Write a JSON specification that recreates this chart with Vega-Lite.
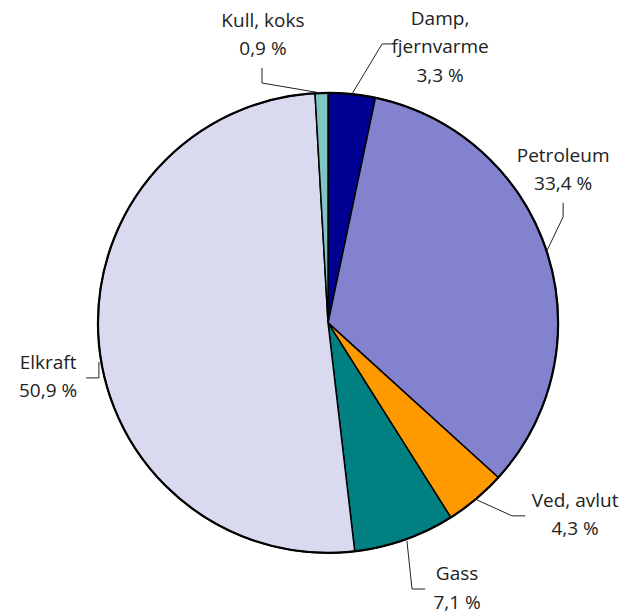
{
  "$schema": "https://vega.github.io/schema/vega-lite/v6.json",
  "width": 631,
  "height": 615,
  "padding": 0,
  "autosize": "none",
  "config": {"view": {"stroke": null}},
  "layer": [
    {
      "data": {"values": [
        {"k": "Damp, fjernvarme", "v": 3.3, "o": 1},
        {"k": "Petroleum", "v": 33.4, "o": 2},
        {"k": "Ved, avlut", "v": 4.3, "o": 3},
        {"k": "Gass", "v": 7.1, "o": 4},
        {"k": "Elkraft", "v": 50.9, "o": 5},
        {"k": "Kull, koks", "v": 0.9, "o": 6}
      ]},
      "mark": {"type": "arc", "outerRadius": 230, "stroke": "#000000", "strokeWidth": 1.5},
      "encoding": {
        "x": {"datum": 0, "type": "quantitative", "scale": {"domain": [-142.6, 131.7], "nice": false, "zero": false}, "axis": null},
        "y": {"datum": 0, "type": "quantitative", "scale": {"domain": [-127.0, 140.4], "nice": false, "zero": false}, "axis": null},
        "theta": {"field": "v", "type": "quantitative", "stack": true},
        "order": {"field": "o", "type": "quantitative"},
        "color": {"field": "k", "type": "nominal", "legend": null,
          "scale": {"domain": ["Damp, fjernvarme", "Petroleum", "Ved, avlut", "Gass", "Elkraft", "Kull, koks"],
                    "range": ["#000092", "#8282CE", "#FF9900", "#008080", "#D9D9F0", "#80C4C4"]}}
      }
    },
    {
      "data": {"values": [{"ring": 1}]},
      "mark": {"type": "arc", "theta": 0, "theta2": 6.2832, "outerRadius": 230, "fill": null, "fillOpacity": 0, "stroke": "#000000", "strokeWidth": 2.2},
      "encoding": {
        "x": {"datum": 0, "type": "quantitative"},
        "y": {"datum": 0, "type": "quantitative"}
      }
    },
    {
      "data": {"values": [
        {"g": "Kull", "i": 0, "x": -28.7, "y": 110.9},
        {"g": "Kull", "i": 1, "x": -28.7, "y": 104.3},
        {"g": "Kull", "i": 2, "x": -2.8, "y": 99.9},
        {"g": "Damp", "i": 0, "x": 28.3, "y": 121.3},
        {"g": "Damp", "i": 1, "x": 23.5, "y": 121.3},
        {"g": "Damp", "i": 2, "x": 10.4, "y": 99.5},
        {"g": "Petroleum", "i": 0, "x": 102.2, "y": 52.2},
        {"g": "Petroleum", "i": 1, "x": 102.2, "y": 46.1},
        {"g": "Petroleum", "i": 2, "x": 95.2, "y": 31.5},
        {"g": "Ved", "i": 0, "x": 64.8, "y": -77.0},
        {"g": "Ved", "i": 1, "x": 80.0, "y": -83.9},
        {"g": "Ved", "i": 2, "x": 85.7, "y": -83.9},
        {"g": "Gass", "i": 0, "x": 34.3, "y": -94.8},
        {"g": "Gass", "i": 1, "x": 36.5, "y": -115.7},
        {"g": "Gass", "i": 2, "x": 42.2, "y": -115.7},
        {"g": "Elkraft", "i": 0, "x": -105.2, "y": -23.9},
        {"g": "Elkraft", "i": 1, "x": -99.6, "y": -23.9},
        {"g": "Elkraft", "i": 2, "x": -99.6, "y": -17.0}
      ]},
      "mark": {"type": "line", "color": "#222222", "strokeWidth": 1},
      "encoding": {
        "x": {"field": "x", "type": "quantitative"},
        "y": {"field": "y", "type": "quantitative"},
        "detail": {"field": "g"},
        "order": {"field": "i", "type": "quantitative"}
      }
    },
    {
      "data": {"values": [
        {"t": "Kull, koks\n0,9 %", "x": -28.3, "y": 131.4},
        {"t": "Damp,\nfjernvarme\n3,3 %", "x": 48.7, "y": 132.2},
        {"t": "Petroleum\n33,4 %", "x": 102.2, "y": 72.6},
        {"t": "Ved, avlut\n4,3 %", "x": 107.4, "y": -77.4},
        {"t": "Gass\n7,1 %", "x": 56.1, "y": -109.2},
        {"t": "Elkraft\n50,9 %", "x": -121.7, "y": -17.4}
      ]},
      "mark": {"type": "text", "lineBreak": "\n", "lineHeight": 28.5, "font": "Open Sans", "fontSize": 19, "color": "#222222", "align": "center", "baseline": "middle"},
      "encoding": {
        "x": {"field": "x", "type": "quantitative"},
        "y": {"field": "y", "type": "quantitative"},
        "text": {"field": "t"}
      }
    }
  ]
}
